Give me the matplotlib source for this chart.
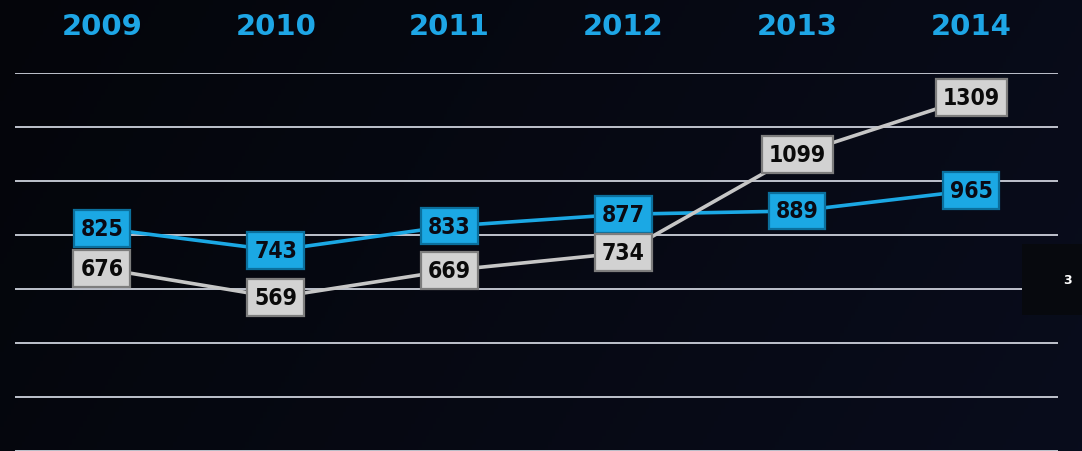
import numpy as np
import matplotlib
matplotlib.use("Agg")
import matplotlib.pyplot as plt
from matplotlib.transforms import blended_transform_factory

years = ["2009", "2010", "2011", "2012", "2013", "2014"]
blue_vals = [825, 743, 833, 877, 889, 965]
gray_vals = [676, 569, 669, 734, 1099, 1309]
grid_levels = [0, 200, 400, 600, 800, 1000, 1200, 1400]
page_no = "3"

BLUE = "#1ba8e4"
BLUE_EDGE = "#0b6f9c"
GRAY = "#d2d2d2"
GRAY_LINE = "#c6c6c6"
GRAY_EDGE = "#7d7d7d"

fig = plt.figure(figsize=(10.82, 4.52), dpi=100)

# background: dark navy, a touch lighter toward the right
bg = fig.add_axes([0, 0, 1, 1], zorder=-10)
gx, gy = np.meshgrid(np.linspace(0, 1, 300), np.linspace(0, 1, 150))
glow = np.clip(0.8 * gx + 0.2 * gy, 0, 1)
c0 = np.array([0.016, 0.02, 0.04])
c1 = np.array([0.035, 0.05, 0.11])
img = c0[None, None, :] + (c1 - c0)[None, None, :] * glow[..., None]
bg.imshow(img, aspect="auto", extent=[0, 1, 0, 1], origin="upper")
bg.set_axis_off()

ax = fig.add_axes([15 / 1082, 0, (1058 - 15) / 1082, 378 / 452])
ax.set_facecolor("none")
x = np.arange(len(years))
ax.set_xlim(-0.5, 5.5)
ax.set_ylim(0, 1400)
for lv in grid_levels:
    ax.axhline(lv, color="#bfc3cd", lw=1.4, zorder=1)
for s in ax.spines.values():
    s.set_visible(False)
ax.set_xticks([])
ax.set_yticks([])

ax.plot(x, blue_vals, color=BLUE, lw=2.6, zorder=2)
ax.plot(x, gray_vals, color=GRAY_LINE, lw=2.6, zorder=2)

lab_kw = dict(ha="center", va="center", fontsize=16.5, fontweight="bold",
              fontstretch="condensed", zorder=4)
for xi, v in zip(x, blue_vals):
    ax.text(xi, v, str(v), color="#0a0a14",
            bbox=dict(boxstyle="square,pad=0.3", fc=BLUE, ec=BLUE_EDGE, lw=1.6),
            **lab_kw)
for xi, v in zip(x, gray_vals):
    ax.text(xi, v, str(v), color="#0a0a0a",
            bbox=dict(boxstyle="square,pad=0.3", fc=GRAY, ec=GRAY_EDGE, lw=1.6),
            **lab_kw)

# year headers above the plot
tr = blended_transform_factory(ax.transData, ax.transAxes)
for xi, yr in zip(x, years):
    ax.text(xi, 1.125, yr, transform=tr, ha="center", va="center",
            fontsize=21, fontweight="bold", color="#1ea6e6", clip_on=False)

# slide page number tab
fig.patches.append(plt.Rectangle((1022 / 1082, 136 / 452), 60 / 1082, 71 / 452,
                                 transform=fig.transFigure, fc="#07090e",
                                 ec="none", zorder=5))
fig.text(1068 / 1082, 171 / 452, page_no, ha="center", va="center",
         fontsize=9, fontweight="bold", color="white", zorder=6)

fig.savefig("out.png", dpi=100, facecolor="#05070f")
